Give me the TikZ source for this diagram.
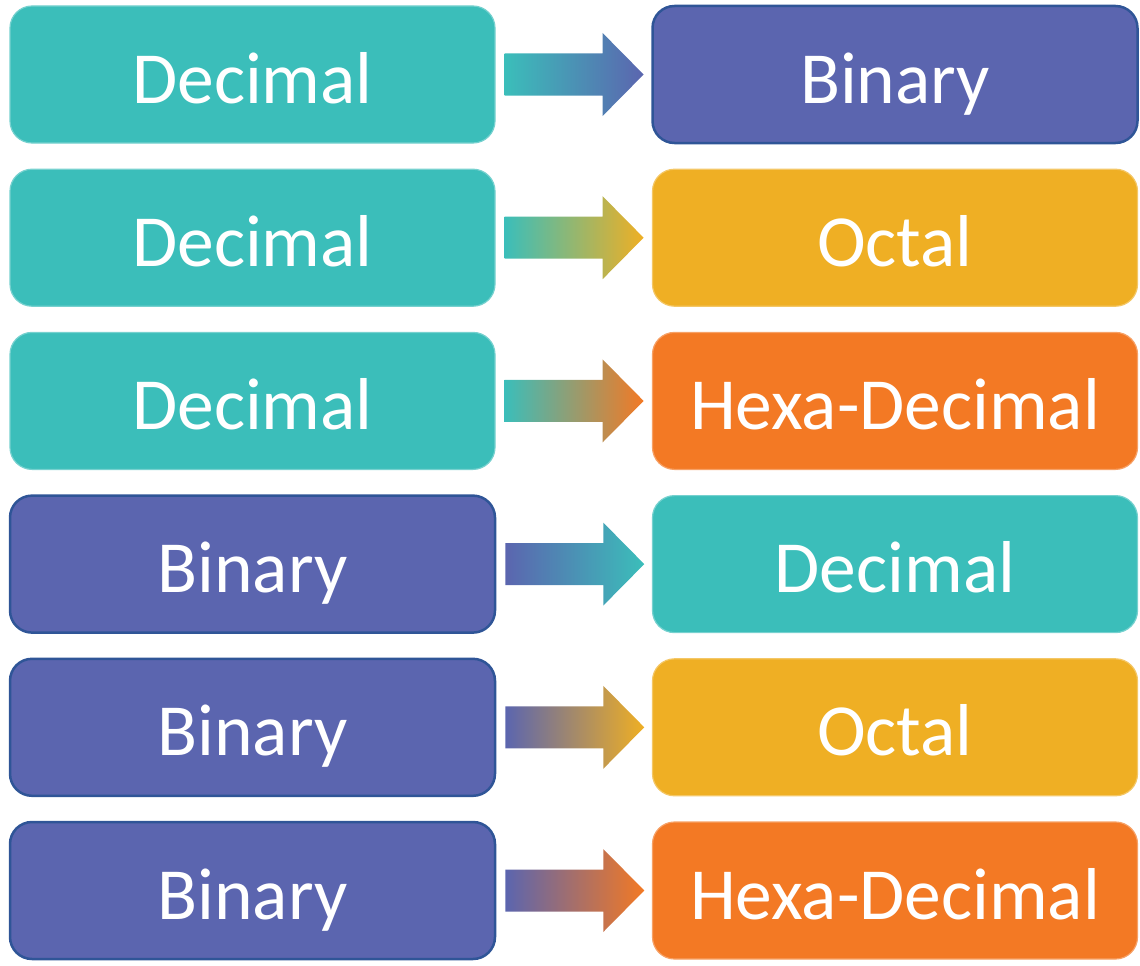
\documentclass[tikz,border=0pt]{standalone}
\usepackage{fontspec}
\setmainfont{Carlito}
\usetikzlibrary{calc}
\definecolor{cTeal}{RGB}{59,190,186}
\definecolor{cPurp}{RGB}{91,101,175}
\definecolor{cPurpLine}{RGB}{47,85,151}
\definecolor{cYel}{RGB}{239,175,36}
\definecolor{cOra}{RGB}{243,121,36}
\begin{document}
\begin{tikzpicture}[x=1pt,y=-1pt,
  box/.style={rounded corners=22pt, minimum width=485pt, minimum height=137pt,
    inner sep=0pt, text height=57pt, text depth=0pt, text=white,
    font=\fontsize{73.5}{80}\selectfont},
  tealbox/.style={box, fill=cTeal, draw=cTeal!70!white, line width=1.2pt},
  purpbox/.style={box, fill=cPurp, draw=cPurpLine, line width=2.5pt},
  yelbox/.style={box, fill=cYel, draw=cYel!70!white, line width=1.2pt},
  orabox/.style={box, fill=cOra, draw=cOra!70!white, line width=1.2pt}]
\useasboundingbox (0,0) rectangle (1140,966);
\foreach \i/\lt/\ls/\lc/\rt/\rs/\rc in {
  0/Decimal/tealbox/cTeal/Binary/purpbox/cPurp,
  1/Decimal/tealbox/cTeal/Octal/yelbox/cYel,
  2/Decimal/tealbox/cTeal/Hexa-Decimal/orabox/cOra,
  3/Binary/purpbox/cPurp/Decimal/tealbox/cTeal,
  4/Binary/purpbox/cPurp/Octal/yelbox/cYel,
  5/Binary/purpbox/cPurp/Hexa-Decimal/orabox/cOra}{
  \pgfmathsetmacro{\yc}{74.5+163.2*\i}
  \node[\ls] (L\i) at (252.5,\yc) {\lt};
  \node[\rs] (R\i) at (895,\yc) {\rt};
  \shade[left color=\lc, right color=\rc]
    ([shift={(9,-21)}]L\i.east) -- ++(98,0) -- ++(0,-20.5)
    -- ([shift={(148,0)}]L\i.east) -- ([shift={(107,41.5)}]L\i.east)
    -- ++(0,-20.5) -- ([shift={(9,21)}]L\i.east) -- cycle;
}
\end{tikzpicture}
\end{document}
